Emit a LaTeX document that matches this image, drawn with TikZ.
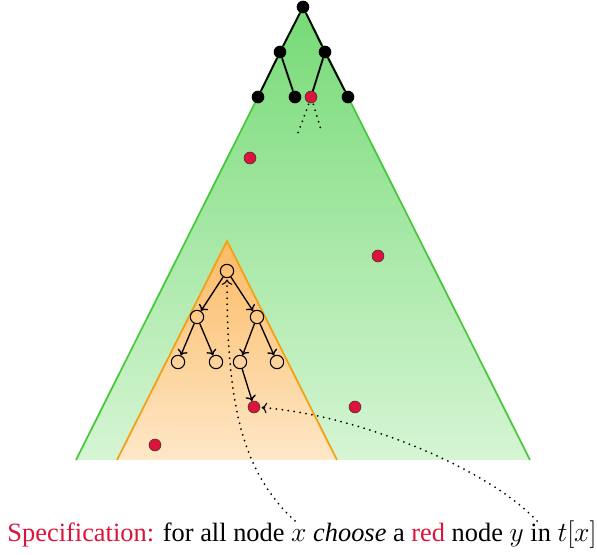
\documentclass[tikz,border=0pt]{standalone}
\usepackage{fontspec}
\setmainfont{Liberation Serif}
\usetikzlibrary{arrows.meta}
\definecolor{crim}{RGB}{220,20,60}
\definecolor{gline}{RGB}{70,200,60}
\definecolor{gtop}{RGB}{118,218,118}
\definecolor{gbot}{RGB}{214,245,212}
\definecolor{oline}{RGB}{242,160,20}
\definecolor{otop}{RGB}{252,186,100}
\definecolor{obot}{RGB}{254,232,200}

\begin{document}
\begin{tikzpicture}[
    x=0.75pt, y=-0.75pt,
    bn/.style={circle, fill=black, inner sep=0pt, minimum size=9.5pt},
    rn/.style={circle, draw=black!80, fill=crim, inner sep=0pt, minimum size=9pt},
    wn/.style={circle, draw=black, line width=0.8pt, inner sep=0pt, minimum size=10pt},
    tedge/.style={line width=1.4pt},
    oedge/.style={->, line width=1pt, >={To[length=4pt,width=8pt]}},
    link/.style={line width=1.5pt, line cap=round, dash pattern=on 0pt off 4.5pt},
]
\useasboundingbox (0,0) rectangle (597,555);

% big tree t
\shade[top color=gtop, bottom color=gbot] (76,460) -- (303,7) -- (530,460) -- cycle;
\draw[gline, line width=1.3pt] (76,460) -- (303,7) -- (530,460);

% subtree t[x]
\shade[top color=otop, bottom color=obot] (117,460) -- (227,241) -- (337,460) -- cycle;
\draw[oline, line width=1.3pt] (117,460) -- (227,241) -- (337,460);

% top of t
\node[bn] (root) at (303,7) {};
\node[bn] (l) at (280,52) {};
\node[bn] (r) at (325,52) {};
\node[bn] (ll) at (258,97) {};
\node[bn] (lr) at (295,97) {};
\node[rn] (rl) at (311,97) {};
\node[bn] (rr) at (348,97) {};
\draw[tedge] (root) -- (l);
\draw[tedge] (root) -- (r);
\draw[tedge] (l) -- (ll);
\draw[tedge] (l) -- (lr);
\draw[tedge] (r) -- (rl);
\draw[tedge] (r) -- (rr);
\coordinate (d1) at (298,133);
\coordinate (d2) at (322,133);
\draw[link] (rl.south west) ++(2,3) -- (d1);
\draw[link] (rl.south east) ++(-2,3) -- (d2);

% red nodes
\node[rn] (y1) at (250,158) {};
\node[rn] (y2) at (378,256) {};
\node[rn] (y3) at (355,407) {};
\node[rn] (y4) at (155,445) {};
\node[rn] (y) at (254,407) {};

% tree in t[x]
\node[wn] (x) at (227,271) {};
\node[wn] (xl) at (197,317) {};
\node[wn] (xr) at (257,317) {};
\node[wn] (xll) at (178,362) {};
\node[wn] (xlr) at (216,362) {};
\node[wn] (xrl) at (240,362) {};
\node[wn] (xrr) at (277,362) {};
\draw[oedge] (x) -- (xl);
\draw[oedge] (x) -- (xr);
\draw[oedge] (xl) -- (xll);
\draw[oedge] (xl) -- (xlr);
\draw[oedge] (xr) -- (xrl);
\draw[oedge] (xr) -- (xrr);
\draw[oedge] (xrl) -- (y);

% specification
\node[font=\fontsize{19.8}{23}\selectfont, inner sep=0pt] (spec) at (302,535)
  {\textcolor{crim}{Specification:} for all node $x$ \textit{choose} a \textcolor{crim}{red} node $y$ in $t[x]$};
\coordinate (sx) at (295,521);
\coordinate (st) at (537,521);
\draw[link, -{To[length=4pt,width=8pt,line width=0.8pt,sep=1pt]}] (sx) .. controls (240,470) and (227,400) .. (x);
\draw[link, -{To[length=4pt,width=8pt,line width=0.8pt,sep=1pt]}] (st) .. controls (490,470) and (360,415) .. (y);
\end{tikzpicture}
\end{document}
